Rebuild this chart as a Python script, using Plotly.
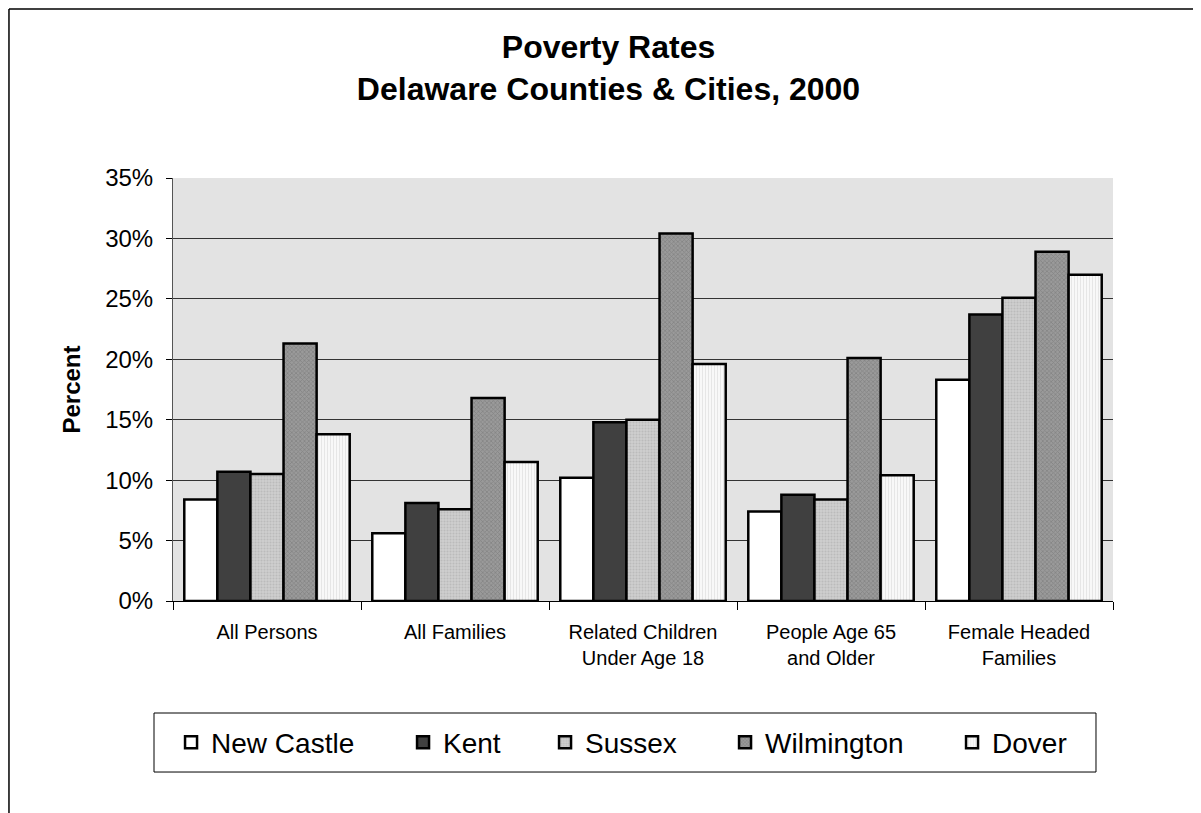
import plotly.graph_objects as go

# categorias e valores (% da população abaixo da linha de pobreza)
categorias = [
    "All Persons",
    "All Families",
    "Related Children<br>Under Age 18",
    "People Age 65<br>and Older",
    "Female Headed<br>Families",
]
new_castle = [8.4, 5.6, 10.2, 7.4, 18.3]
kent = [10.7, 8.1, 14.8, 8.8, 23.7]
sussex = [10.5, 7.6, 15.0, 8.4, 25.1]
wilmington = [21.3, 16.8, 30.4, 20.1, 28.9]
dover = [13.8, 11.5, 19.6, 10.4, 27.0]
ticks_y = [0, 5, 10, 15, 20, 25, 30, 35]

FONTE = "Arial, Liberation Sans, sans-serif"

# nome, valores, estilo do preenchimento, largura da entrada na legenda
series = [
    ("New Castle", new_castle, {"color": "white"}, 187),
    ("Kent", kent, {"color": "#404040"}, 97),
    ("Sussex", sussex, {"color": "#c4c4c4",
                        "pattern": {"shape": ".", "fgcolor": "#a8a8a8", "bgcolor": "#cfcfcf",
                                    "size": 3, "solidity": 0.4}}, 135),
    ("Wilmington", wilmington, {"color": "#8a8a8a",
                                "pattern": {"shape": "x", "fgcolor": "#6a6a6a", "bgcolor": "#9a9a9a",
                                            "size": 3, "solidity": 0.4}}, 182),
    ("Dover", dover, {"color": "#f2f2f2",
                      "pattern": {"shape": "|", "fgcolor": "#d2d2d2", "bgcolor": "#fafafa",
                                  "size": 3, "solidity": 0.4}}, 82),
]

fig = go.Figure()
for nome, valores, estilo, larg in series:
    fig.add_trace(
        go.Bar(
            x=categorias,
            y=valores,
            name=nome,
            legendwidth=larg,
            marker={**estilo, "line": {"color": "black", "width": 2.5}},
        )
    )

fig.update_layout(
    width=1201,
    height=813,
    margin={"l": 165, "r": 96, "t": 170, "b": 220},
    paper_bgcolor="white",
    plot_bgcolor="#e3e3e3",
    font={"family": FONTE, "color": "black"},
    barmode="group",
    bargap=0.12,
    bargroupgap=0,
    title={
        "text": "<b>Poverty Rates<br>Delaware Counties & Cities, 2000</b>",
        "x": 0.5,
        "xanchor": "center",
        "y": 1 - 50 / 813,
        "yanchor": "top",
        "font": {"size": 32, "family": FONTE},
    },
    legend={
        "orientation": "h",
        "x": 0.4809,
        "xanchor": "center",
        "y": -0.3345,
        "yanchor": "middle",
        "borderwidth": 0,
        "bgcolor": "rgba(0,0,0,0)",
        "font": {"size": 28},
        "traceorder": "normal",
    },
    showlegend=True,
)

fig.update_xaxes(
    tickson="boundaries",
    ticks="outside",
    ticklen=8,
    tickcolor="black",
    showline=True,
    linecolor="black",
    linewidth=1,
    tickfont={"size": 20},
    ticklabelstandoff=13,
    showgrid=False,
)

fig.update_yaxes(
    range=[0, 35],
    tickvals=ticks_y,
    ticktext=[f"{v}%" for v in ticks_y],
    ticks="outside",
    ticklen=6,
    tickcolor="black",
    showline=True,
    linecolor="#555",
    linewidth=1,
    showgrid=True,
    gridcolor="#333",
    gridwidth=1,
    zeroline=False,
    tickfont={"size": 24},
    ticklabelstandoff=8,
    title={"text": "<b>Percent</b>", "font": {"size": 24}, "standoff": 17},
)

# caixa da legenda
fig.add_shape(type="rect", xref="paper", yref="paper",
              x0=-0.0202, x1=0.9819, y0=-0.4043, y1=-0.2648,
              line={"color": "black", "width": 1})

# moldura do gráfico (apenas borda esquerda e superior visíveis)
fig.add_shape(type="line", xref="paper", yref="paper",
              x0=-0.1745, x1=1.2, y0=1.3995, y1=1.3995,
              line={"color": "black", "width": 1.5})
fig.add_shape(type="line", xref="paper", yref="paper",
              x0=-0.1745, x1=-0.1745, y0=1.3995, y1=-0.6,
              line={"color": "black", "width": 1.5})

fig.write_html("out.html")
